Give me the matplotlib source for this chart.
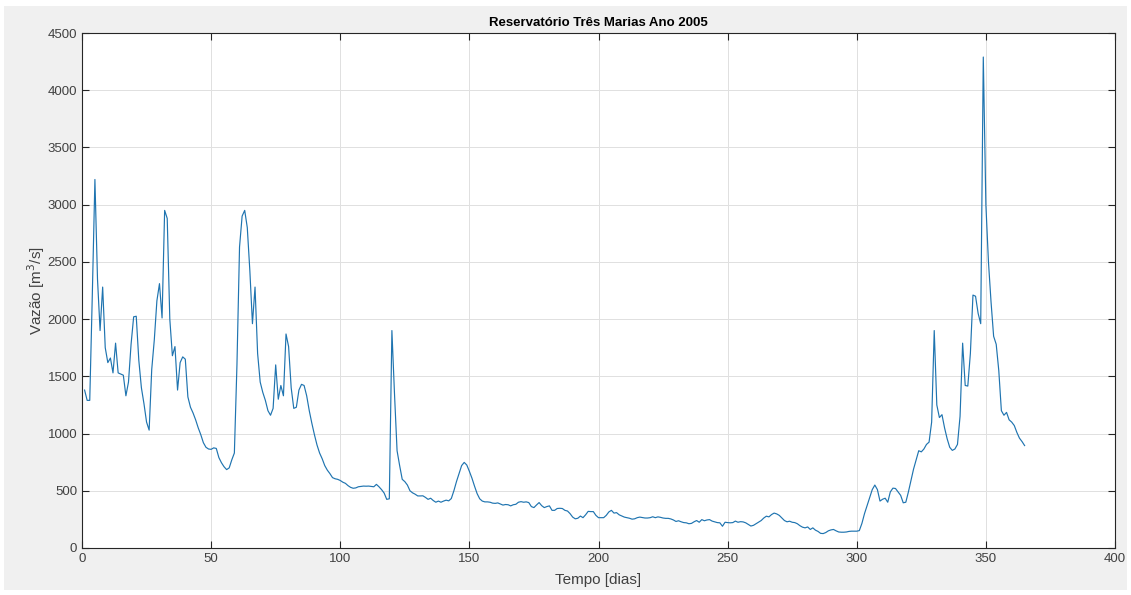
import matplotlib
matplotlib.use("Agg")
import matplotlib.pyplot as plt
from matplotlib.patches import Rectangle

# vazão diária (m3/s), dias 1..365
vazao_jan_fev = [
    1380, 1290, 1290, 2220, 3220, 2350, 1900, 2280, 1750, 1620,
    1660, 1530, 1790, 1530, 1520, 1510, 1330, 1450, 1780, 2020,
    2025, 1640, 1400, 1260, 1100, 1030, 1560, 1820, 2160, 2310,
    2010, 2950, 2880, 2000, 1680, 1760, 1380, 1620, 1670, 1650,
    1320, 1230, 1180, 1120, 1050, 990, 920, 880, 865, 862,
    875, 870, 790, 745, 710, 685, 700, 770, 830, 1600,
]
vazao_mar_abr = [
    2630, 2900, 2950, 2800, 2420, 1960, 2280, 1700, 1450, 1360,
    1290, 1200, 1160, 1220, 1600, 1300, 1420, 1330, 1870, 1760,
    1400, 1220, 1230, 1380, 1430, 1420, 1330, 1200, 1090, 990,
    900, 830, 780, 720, 680, 650, 615, 605, 600, 590,
    575, 565, 545, 530, 522, 525, 535, 538, 541, 540,
    541, 538, 535, 556, 535, 510, 480, 425, 430, 1900,
]
vazao_mai_jun = [
    1350, 850, 720, 600, 580, 550, 500, 482, 470, 455,
    455, 456, 442, 425, 435, 415, 400, 410, 400, 410,
    418, 412, 432, 500, 580, 650, 720, 748, 725, 670,
    610, 540, 475, 430, 410, 403, 403, 400, 392, 390,
    394, 385, 375, 380, 378, 368, 378, 382, 400, 405,
    400, 403, 397, 362, 353, 376, 397, 370, 353, 362,
]
vazao_jul_ago = [
    368, 329, 329, 345, 347, 345, 329, 323, 300, 270,
    255, 260, 279, 265, 290, 320, 318, 318, 285, 265,
    265, 265, 285, 315, 329, 305, 309, 290, 280, 270,
    265, 260, 252, 255, 265, 270, 266, 262, 262, 265,
    273, 265, 272, 268, 262, 259, 259, 254, 245, 232,
    238, 229, 222, 220, 212, 215, 229, 240, 225, 248,
]
vazao_set_out = [
    238, 245, 248, 235, 229, 222, 220, 190, 225, 222,
    220, 222, 235, 225, 230, 228, 220, 206, 192, 198,
    212, 225, 240, 262, 278, 272, 292, 305, 298, 285,
    262, 240, 229, 234, 225, 222, 212, 195, 182, 176,
    184, 162, 176, 156, 145, 128, 126, 135, 150, 158,
    162, 150, 140, 138, 138, 140, 145, 147, 147, 147,
]
vazao_nov_dez = [
    152, 215, 300, 370, 440, 510, 550, 510, 410, 426,
    435, 400, 490, 523, 520, 490, 460, 395, 400, 490,
    590, 690, 770, 850, 840, 865, 905, 925, 1100, 1900,
    1250, 1140, 1165, 1050, 955, 880, 853, 865, 905, 1150,
    1790, 1420, 1415, 1700, 2210, 2200, 2050, 1960, 4290, 3000,
    2500, 2150, 1850, 1780, 1550, 1200, 1160, 1185, 1120, 1100,
    1070, 1010, 960, 930, 895,
]

vazao = (vazao_jan_fev + vazao_mar_abr + vazao_mai_jun
         + vazao_jul_ago + vazao_set_out + vazao_nov_dez)
dias = list(range(1, len(vazao) + 1))

xticks = [0, 50, 100, 150, 200, 250, 300, 350, 400]
yticks = [0, 500, 1000, 1500, 2000, 2500, 3000, 3500, 4000, 4500]

plt.rcParams["font.family"] = ["Liberation Sans", "DejaVu Sans"]

fig = plt.figure(figsize=(11.31, 5.95), dpi=100, facecolor="white")
# fundo cinza estilo MATLAB
fig.patches.append(Rectangle((4 / 1131, 5 / 595), 1123 / 1131, 584 / 595,
                             transform=fig.transFigure, facecolor="#f0f0f0",
                             edgecolor="none", zorder=-10))

ax = fig.add_axes([82 / 1131, 47 / 595, 1033 / 1131, 515 / 595])
ax.set_facecolor("white")
ax.plot(dias, vazao, color="#1f74b0", linewidth=0.85)

ax.set_xlim(0, 400)
ax.set_ylim(0, 4500)
ax.set_xticks(xticks)
ax.set_yticks(yticks)
ax.grid(True, color="#e0e0e0", linewidth=0.7)
ax.set_axisbelow(True)
ax.tick_params(direction="in", length=5, width=0.8, colors="#262626",
               labelcolor="#404040", labelsize=9.5, top=True, right=True)
for sp in ax.spines.values():
    sp.set_color("#262626")
    sp.set_linewidth(0.8)

ax.set_title("Reservatório Três Marias Ano 2005", fontsize=9.5,
             fontweight="bold", color="black", pad=5)
ax.set_xlabel("Tempo [dias]", fontsize=11, color="#404040", labelpad=6)
ax.set_ylabel("Vazão [m$^3$/s]", fontsize=11, color="#404040")
ax.yaxis.set_label_coords(-0.034, 0.5)

fig.savefig("out.png", dpi=100, facecolor=fig.get_facecolor())
